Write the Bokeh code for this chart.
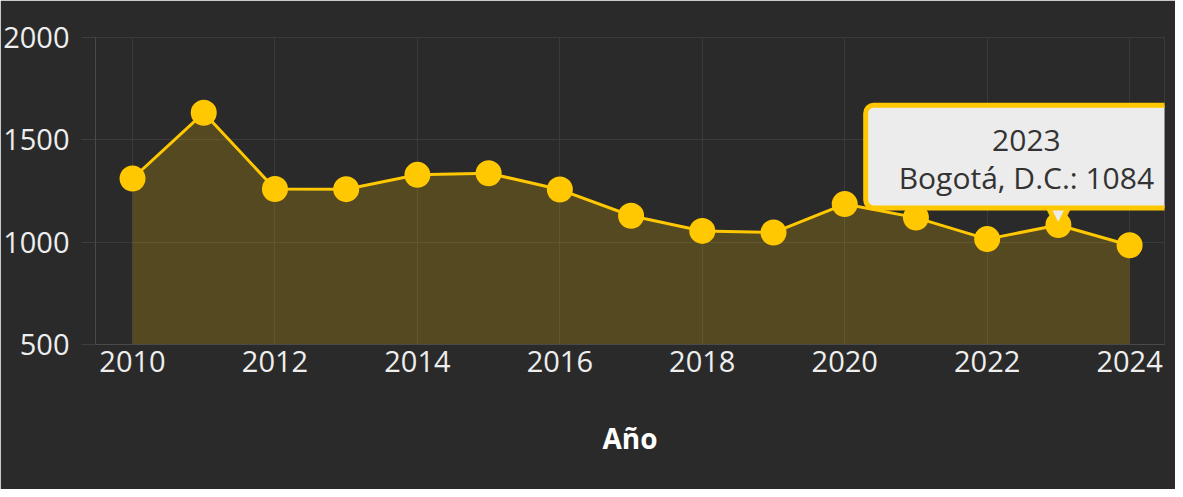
from bokeh.plotting import figure
from bokeh.models import Range1d, FixedTicker, Label
from bokeh.core.properties import value
from bokeh.embed import file_html
from bokeh.resources import INLINE

years = [2010, 2011, 2012, 2013, 2014, 2015, 2016, 2017, 2018, 2019, 2020, 2021, 2022, 2023, 2024]
values = [1311, 1632, 1260, 1259, 1329, 1337, 1257, 1129, 1055, 1047, 1186, 1120, 1015, 1084, 985]
x_ticks = [2010, 2012, 2014, 2016, 2018, 2020, 2022, 2024]
y_ticks = [500, 1000, 1500, 2000]
series_name = "Bogotá, D.C."
hover_year = 2023
hover_value = 1084

BG = "#2a2a2a"
YEL = "#ffc800"
FONT = "Open Sans"

p = figure(width=1175, height=489, output_backend="svg", toolbar_location=None,
           x_range=Range1d(2009.48, 2024.49), y_range=Range1d(500, 2000),
           min_border_left=93, min_border_right=11, min_border_top=37, min_border_bottom=145)
p.background_fill_color = BG
p.border_fill_color = BG
p.outline_line_color = "#3a3a3a"

p.xaxis.ticker = FixedTicker(ticks=x_ticks)
p.yaxis.ticker = FixedTicker(ticks=y_ticks)
for ax in (p.xaxis[0], p.yaxis[0]):
    ax.major_label_text_font = FONT
    ax.major_label_text_font_size = "29px"
    ax.major_label_text_color = "#eeeeee"
    ax.minor_tick_line_color = None
    ax.axis_line_color = "#4a4a4a"

p.yaxis.major_tick_out = 14
p.yaxis.major_tick_in = 0
p.yaxis.major_tick_line_color = "#3e3e3e"
p.yaxis.major_label_standoff = 12
p.xaxis.major_tick_line_color = None
p.xaxis.major_label_standoff = 0
p.xaxis.axis_label = "Año"
p.xaxis.axis_label_text_font = FONT
p.xaxis.axis_label_text_font_size = "28px"
p.xaxis.axis_label_text_font_style = "bold"
p.xaxis.axis_label_text_color = "#ffffff"
p.xaxis.axis_label_standoff = 44

p.xgrid.ticker = FixedTicker(ticks=x_ticks)
p.xgrid.grid_line_color = "#3a3a3a"
p.ygrid.grid_line_color = "#3a3a3a"

p.varea(x=years, y1=[500] * len(years), y2=values, fill_color=YEL, fill_alpha=0.2)
p.line(years, values, line_color=YEL, line_width=3)
p.scatter(years, values, size=26, fill_color=YEL, line_color=None)

tip = Label(x=hover_year, y=hover_value, x_units="data", y_units="data",
            text=f"{hover_year}\n{series_name}: {hover_value}",
            text_align="center", text_baseline="bottom", x_offset=-32, y_offset=17,
            text_font=FONT, text_font_size="30px", text_color="#333333",
            text_line_height=0.92,
            background_fill_color="#ececec", background_fill_alpha=1.0,
            border_line_color=YEL, border_line_width=5, border_radius=8,
            padding=dict(left=33, right=33, top=14, bottom=10))
p.add_layout(tip)

# tooltip pointer (drawn above the box border)
p.text(x=[hover_year], y=[hover_value], text=["▼"], text_font=value("DejaVu Sans"),
       text_font_size="36px", text_color=YEL, text_align="center", text_baseline="middle",
       y_offset=-8)
p.text(x=[hover_year], y=[hover_value], text=["▼"], text_font=value("DejaVu Sans"),
       text_font_size="22px", text_color="#ececec", text_align="center", text_baseline="middle",
       y_offset=-13)

open("out.html", "w").write(file_html(p, INLINE))
